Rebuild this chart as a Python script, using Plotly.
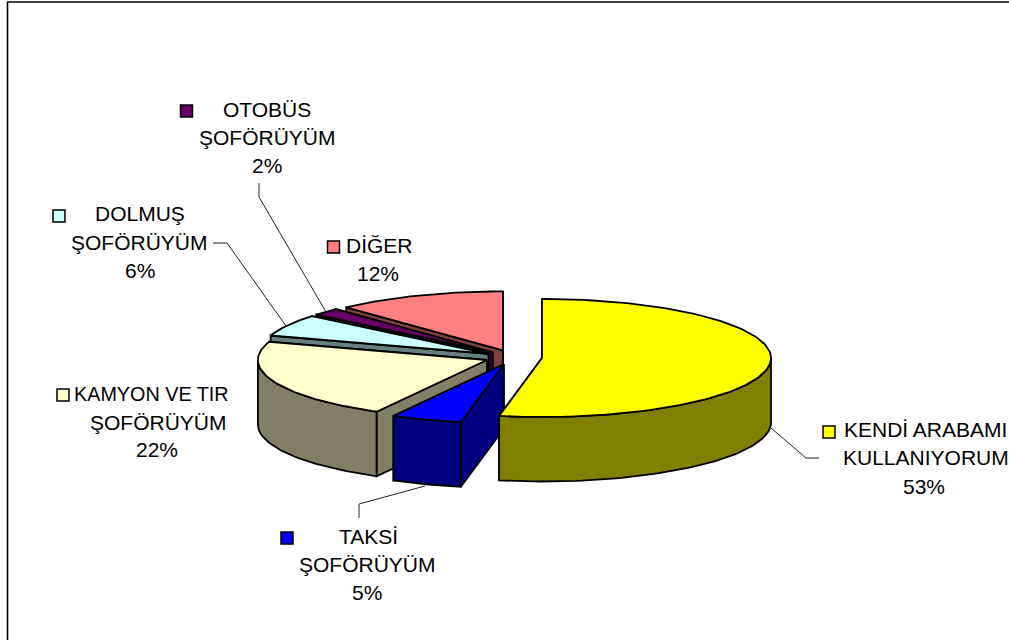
import numpy as np
import plotly.graph_objects as go

# ---- data ----
categories = ["KENDİ ARABAMI KULLANIYORUM", "TAKSİ ŞOFÖRÜYÜM", "KAMYON VE TIR ŞOFÖRÜYÜM",
              "DOLMUŞ ŞOFÖRÜYÜM", "OTOBÜS ŞOFÖRÜYÜM", "DİĞER"]
values = [53, 5, 22, 6, 2, 12]
label_lines = [["KENDİ ARABAMI", "KULLANIYORUM"], ["TAKSİ", "ŞOFÖRÜYÜM"], ["KAMYON VE TIR", "ŞOFÖRÜYÜM"],
               ["DOLMUŞ", "ŞOFÖRÜYÜM"], ["OTOBÜS", "ŞOFÖRÜYÜM"], ["DİĞER"]]
top_colors = ["#FFFF00", "#0000FF", "#FFFFCC", "#CCFFFF", "#660066", "#FF8080"]
side_colors = ["#808000", "#000080", "#808066", "#668080", "#330033", "#804040"]

# ---- layout of the projected pie ----
CX, CY, RX, RY, DEPTH, EXPLODE = 513.5, 357.3, 229.0, 59.0, 64.5, 0.125
FONT = "Liberation Sans, Arial, sans-serif"
FS = 21
FS_OVERRIDE = {"KAMYON VE TIR": 19.8}
# label text centres: one (x, y) per line, last is the percentage
label_pos = [[(925.5, 429), (926, 457), (924, 486)],
             [(368, 536), (367, 564), (367, 592)],
             [(151, 394), (158, 422), (157, 449)],
             [(140, 213), (139.5, 242), (140, 270)],
             [(267, 109), (267, 137), (267, 165)],
             [(379, 245), (378, 273)]]
key_pos = [(829, 432), (287, 538), (63, 395), (59, 216), (186.5, 111), (333.5, 247)]
leaders = [[(771, 428), (806, 458), (819, 458)],
           [(359, 518), (359, 504), (425, 486)],
           [(213, 243), (227, 243), (286, 326)],
           [(259, 183), (259, 197), (326, 312)]]


def pt(ax, ay, deg):
    t = np.radians(deg)
    return ax + RX * np.sin(t), ay - RY * np.cos(t)


def arc(ax, ay, a0, a1):
    n = max(2, int(abs(a1 - a0) / 1.5) + 2)
    ts = np.linspace(a0, a1, n)
    return pt(ax, ay, ts)


total = sum(values)
edges = np.concatenate([[0], np.cumsum(values)]) / total * 360.0

fig = go.Figure()


def poly(xs, ys, color):
    xs, ys = list(xs), list(ys)
    fig.add_trace(go.Scatter(x=xs + xs[:1], y=ys + ys[:1], mode="lines", fill="toself",
                             fillcolor=color, line=dict(color="black", width=1.8),
                             hoverinfo="skip", showlegend=False))


# painter's order: back slices first, front slices last
for i in [5, 4, 3, 2, 1, 0]:
    a0, a1 = edges[i], edges[i + 1]
    mid = (a0 + a1) / 2
    ax = CX + EXPLODE * RX * np.sin(np.radians(mid))
    ay = CY - EXPLODE * RY * np.cos(np.radians(mid))
    # cut faces: the hidden (end) face first, the visible (start) face after it
    for e in (a1, a0):
        ex, ey = pt(ax, ay, e)
        poly([ax, ex, ex, ax], [ay, ey, ey + DEPTH, ay + DEPTH], side_colors[i])
    # visible outer wall (front half of the ellipse)
    w0, w1 = max(a0, 90.0), min(a1, 270.0)
    if w1 > w0:
        wx, wy = arc(ax, ay, w0, w1)
        poly(np.concatenate([wx, wx[::-1]]), np.concatenate([wy, wy[::-1] + DEPTH]), side_colors[i])
    # top face
    tx, ty = arc(ax, ay, a0, a1)
    poly(np.concatenate([[ax], tx]), np.concatenate([[ay], ty]), top_colors[i])

# legend keys
for (kx, ky), c in zip(key_pos, top_colors):
    fig.add_trace(go.Scatter(x=[kx], y=[ky], mode="markers", hoverinfo="skip", showlegend=False,
                             marker=dict(symbol="square", size=12, color=c,
                                         line=dict(color="black", width=1.5))))

# leader lines
for pts in leaders:
    fig.add_trace(go.Scatter(x=[p[0] for p in pts], y=[p[1] for p in pts], mode="lines",
                             line=dict(color="#222222", width=1), hoverinfo="skip", showlegend=False))

# labels
ann = []
for lines, v, pos in zip(label_lines, values, label_pos):
    for txt, (x, y) in zip(lines + [f"{v}%"], pos):
        ann.append(dict(x=x, y=y, xref="x", yref="y", text=txt, showarrow=False,
                        xanchor="center", yanchor="middle",
                        font=dict(family=FONT, size=FS_OVERRIDE.get(txt, FS), color="black")))

shapes = [
    dict(type="line", xref="x", yref="y", x0=7.5, x1=7.5, y0=2, y1=640, line=dict(color="black", width=1.6)),
    dict(type="line", xref="x", yref="y", x0=7, x1=1009, y0=2, y1=2, line=dict(color="black", width=1.6)),
]

fig.update_layout(
    width=1009, height=640, margin=dict(l=0, r=0, t=0, b=0),
    paper_bgcolor="white", plot_bgcolor="white",
    xaxis=dict(range=[0, 1009], visible=False, fixedrange=True),
    yaxis=dict(range=[640, 0], visible=False, fixedrange=True),
    annotations=ann, shapes=shapes, showlegend=False,
)
fig.write_html("out.html", config={"displayModeBar": False},
               post_script="document.body.style.margin='0';document.body.style.overflow='hidden';")
